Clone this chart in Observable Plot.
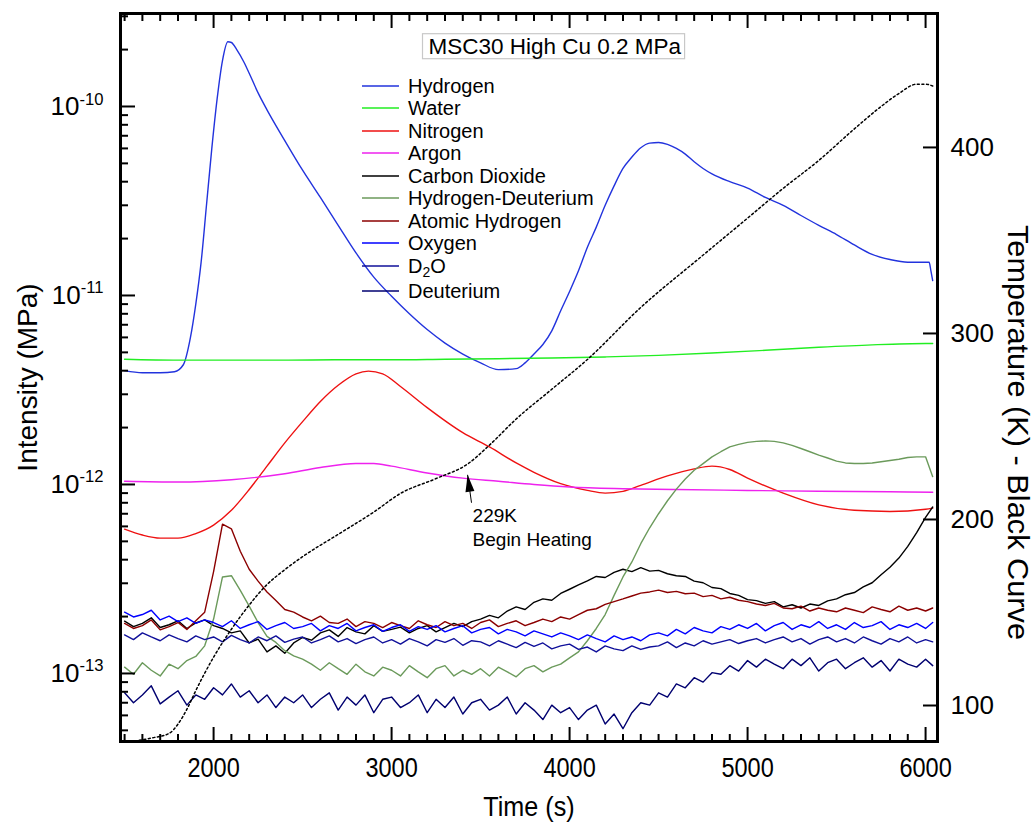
<!DOCTYPE html>
<html><head><meta charset="utf-8">
<script src="https://cdn.jsdelivr.net/npm/d3@7"></script>
<script src="https://cdn.jsdelivr.net/npm/@observablehq/plot@0.6"></script>
<style>
html,body{margin:0;padding:0;background:#fff;}
#chart{width:1034px;height:826px;}
</style></head><body><div id="chart"></div>
<script>
// ---------------- DATA ----------------
const seriesNames  = ["Hydrogen","Water","Nitrogen","Argon","Carbon Dioxide","Hydrogen-Deuterium","Atomic Hydrogen","Oxygen","D2O","Deuterium"];
const seriesColors = ["#2233dd","#22ee22","#ee1111","#ee22ee","#000000","#6b9a5b","#8b0000","#0000ff","#10109a","#000070"];

// smooth series (values in 1e-12 MPa)
const tHydrogen = [1500,1600,1700,1780,1830, 1870,1900,1930,1960,1990, 2020,2050,2080,2100,2130, 2170,2200,2250,2300,2400, 2500,2600,2700,2800,2900, 3000,3100,3200,3300,3400, 3500,3600,3700,3750,3800, 3850,3900,3950,4000,4050, 4100,4150,4200,4250,4300, 4350,4400,4450,4500,4550, 4600,4650,4700,4750,4800, 4900,5000,5100,5200,5300, 5400,5500,5600,5700,5800, 5900,6000,6020,6030,6040];
const hydrogen  = [4.0,3.9,3.9,3.95,4.3, 6,9,15,30,60, 110,175,220,218,200, 172,150,118,96,66, 46,33,23.5,16.8,12.5, 9.9,8.0,6.6,5.6,4.9, 4.4,4.05,4.1,4.4,4.9, 5.5,6.5,8.3,10.5,13.5, 18,23,30,38,47, 54,60.5,64,64.5,63, 60,56,51,47,44, 40,37,33,30,26.5, 23.5,21,18.5,16.5,15.5, 15.0,15.0,15.0,13.5,12];

const tWater = [1500,1800,2100,2400,2700,3000,3300,3600,3900,4200,4500,4800,5100,5400,5700,6000,6040];
const water  = [4.6,4.55,4.55,4.55,4.57,4.57,4.6,4.63,4.67,4.73,4.82,4.96,5.13,5.32,5.48,5.57,5.57];

const tNitrogen = [1500,1600,1700,1800,1900,2000,2100,2200,2300,2400,2500,2600,2700,2800,2870,2950,3050,3200,3400,3550,3700,3800,3950,4100,4200,4300,4400,4550,4700,4800,4900,5000,5200,5400,5600,5800,6000,6040];
const nitrogen  = [0.58,0.54,0.52,0.52,0.55,0.61,0.73,0.94,1.25,1.66,2.15,2.75,3.35,3.85,3.98,3.85,3.30,2.55,1.88,1.58,1.30,1.16,1.01,0.93,0.90,0.92,0.99,1.11,1.21,1.25,1.20,1.08,0.90,0.78,0.73,0.72,0.74,0.75];

const tArgon = [1500,1800,2100,2400,2600,2800,2900,3000,3200,3400,3600,3800,4000,4300,4600,5000,5400,5800,6040];
const argon  = [1.04,1.03,1.06,1.14,1.23,1.29,1.29,1.25,1.15,1.08,1.04,1.00,0.97,0.95,0.94,0.93,0.92,0.915,0.91];

// noisy series (values in 1e-13 MPa) on a common time grid
const tNoisy = [1500,1550,1600,1650,1700,1750,1800,1850,1900,1950,
2000,2050,2100,2150,2200,2250,2300,2350,2400,2450,
2500,2550,2600,2650,2700,2750,2800,2850,2900,2950,
3000,3050,3100,3150,3200,3250,3300,3350,3400,3450,
3500,3550,3600,3650,3700,3750,3800,3850,3900,3950,
4000,4050,4100,4150,4200,4250,4300,4350,4400,4450,
4500,4550,4600,4650,4700,4750,4800,4850,4900,4950,
5000,5050,5100,5150,5200,5250,5300,5350,5400,5450,
5500,5550,5600,5650,5700,5750,5800,5850,5900,5950,
6000,6040];
const carbonDioxide = [1.89,1.77,1.84,1.97,1.75,1.81,1.90,1.73,1.85,1.92,
1.79,1.73,1.64,1.68,1.45,1.52,1.30,1.40,1.28,1.45,
1.55,1.50,1.64,1.70,1.57,1.75,1.66,1.62,1.79,1.67,
1.71,1.76,1.64,1.73,1.79,1.66,1.75,1.84,1.77,1.88,
1.94,2.03,1.97,2.14,2.25,2.18,2.38,2.48,2.44,2.65,
2.79,2.94,3.09,3.26,3.22,3.43,3.56,3.46,3.63,3.48,
3.51,3.37,3.29,3.26,3.08,3.02,2.85,2.81,2.65,2.59,
2.46,2.43,2.35,2.40,2.25,2.31,2.22,2.33,2.29,2.42,
2.48,2.61,2.68,2.87,3.02,3.33,3.65,4.08,4.70,5.56,
6.70,7.60];
const hydrogenDeuterium = [1.08,0.99,1.14,1.04,0.97,1.12,1.06,1.17,1.23,1.40,
1.94,3.24,3.29,2.75,2.27,1.86,1.57,1.46,1.32,1.24,
1.19,1.12,1.04,1.14,1.06,0.99,1.12,1.02,0.97,1.08,
1.04,0.97,1.10,1.02,0.95,1.06,1.10,0.97,1.04,0.99,
1.06,0.97,1.08,1.02,0.96,1.06,1.10,1.02,1.08,1.12,
1.21,1.30,1.49,1.73,2.05,2.59,3.24,3.89,4.86,5.90,
7.0,8.2,9.45,10.7,11.9,12.9,14.0,14.9,15.8,16.3,
16.7,16.9,17.0,16.9,16.6,16.1,15.5,14.9,14.3,13.8,
13.3,13.0,12.9,12.9,13.0,13.2,13.4,13.6,13.9,14.0,
14.0,11.0];
const atomicHydrogen = [1.84,1.73,1.79,1.92,1.70,1.77,1.86,1.71,1.90,2.11,
3.46,6.16,5.83,4.43,3.56,3.08,2.70,2.43,2.18,2.11,
1.99,1.90,2.01,1.86,1.84,1.94,1.77,1.88,1.84,1.75,
1.86,1.79,1.73,1.90,1.81,1.75,1.88,1.79,1.84,1.73,
1.86,1.92,1.77,1.84,1.90,1.79,1.86,1.94,1.88,1.99,
1.94,2.05,2.16,2.20,2.32,2.40,2.48,2.57,2.66,2.70,
2.76,2.68,2.72,2.64,2.66,2.55,2.59,2.48,2.53,2.44,
2.40,2.33,2.29,2.35,2.22,2.20,2.27,2.14,2.22,2.16,
2.12,2.22,2.16,2.10,2.25,2.18,2.12,2.27,2.16,2.22,
2.14,2.22];
const oxygen = [2.11,1.99,2.05,2.16,1.92,2.01,1.88,1.97,1.84,1.92,
1.86,1.77,1.90,1.73,1.81,1.88,1.71,1.79,1.86,1.73,
1.77,1.84,1.68,1.79,1.73,1.84,1.68,1.75,1.81,1.67,
1.75,1.81,1.67,1.77,1.71,1.79,1.66,1.73,1.79,1.64,
1.71,1.75,1.62,1.71,1.66,1.58,1.68,1.62,1.56,1.64,
1.58,1.51,1.60,1.53,1.47,1.58,1.51,1.56,1.49,1.60,
1.64,1.58,1.71,1.62,1.75,1.68,1.64,1.77,1.71,1.81,
1.73,1.84,1.68,1.79,1.86,1.71,1.81,1.75,1.88,1.73,
1.81,1.71,1.86,1.75,1.79,1.88,1.71,1.81,1.75,1.84,
1.73,1.86];
const d2o = [1.60,1.51,1.64,1.56,1.49,1.60,1.53,1.47,1.58,1.51,
1.56,1.47,1.59,1.51,1.45,1.56,1.49,1.58,1.46,1.52,
1.56,1.45,1.51,1.58,1.47,1.53,1.44,1.51,1.56,1.45,
1.51,1.43,1.53,1.47,1.40,1.51,1.46,1.53,1.41,1.49,
1.47,1.40,1.49,1.43,1.37,1.46,1.39,1.45,1.35,1.40,
1.43,1.34,1.38,1.30,1.40,1.35,1.32,1.40,1.34,1.38,
1.40,1.47,1.37,1.45,1.40,1.49,1.43,1.47,1.51,1.44,
1.49,1.53,1.45,1.51,1.56,1.47,1.53,1.43,1.51,1.56,
1.47,1.53,1.45,1.56,1.49,1.43,1.53,1.47,1.56,1.45,
1.51,1.47];
const deuterium = [0.79,0.70,0.77,0.86,0.69,0.75,0.81,0.68,0.77,0.73,
0.84,0.77,0.88,0.75,0.81,0.70,0.77,0.66,0.75,0.70,
0.77,0.66,0.73,0.79,0.64,0.75,0.68,0.77,0.62,0.73,
0.75,0.66,0.70,0.77,0.62,0.73,0.66,0.75,0.61,0.70,
0.73,0.64,0.68,0.75,0.61,0.70,0.64,0.57,0.68,0.62,
0.66,0.57,0.64,0.68,0.54,0.61,0.51,0.62,0.70,0.68,
0.79,0.75,0.88,0.84,0.95,0.90,1.01,0.99,1.10,1.03,
1.17,1.08,1.19,1.12,1.06,1.19,1.10,1.21,1.03,1.14,
1.19,1.06,1.14,1.21,1.08,1.17,1.03,1.19,1.12,1.08,
1.19,1.10];

// temperature (K), black dotted curve on right axis
const tTemp = [1480,1650,1750,1800,1850,1900,2000,2100,2200,2300,2400,2500,2700,2900,3050,3250,3430,3550,3700,3900,4100,4400,4736,5000,5200,5400,5600,5750,5850,5950,6000,6040];
const temperature = [80,82.5,85,90,98,108,126,141,154,165,173,180,192,204,214,222,230,240,254,270,286,314,341,362,378,393,410,422,429,434,434,433];

// axis ticks
const xMajorTicks = [2000,3000,4000,5000,6000];
const yMajorTicks = [1e-13,1e-12,1e-11,1e-10];
const tempTicks = [100,200,300,400];

// annotation
const annotLabel = "229K\nBegin Heating";
const annotTip = {t: 3427, T: 224};
const annotTail = {t: 3449, T: 209};
const annotText = {t: 3455, T: 207.5};
const chartTitle = "MSC30 High Cu 0.2 MPa";

// ---------------- BUILD ----------------
function build(ts, vs, unit, name) {
  if (ts.length !== vs.length) throw new Error("length mismatch " + name + " " + ts.length + " vs " + vs.length);
  return ts.map((t, i) => ({t, v: vs[i] * unit}));
}
const seriesData = [
  build(tHydrogen, hydrogen, 1e-12, "H"),
  build(tWater, water, 1e-12, "W"),
  build(tNitrogen, nitrogen, 1e-12, "N"),
  build(tArgon, argon, 1e-12, "Ar"),
  build(tNoisy, carbonDioxide, 1e-13, "CO2"),
  build(tNoisy, hydrogenDeuterium, 1e-13, "HD"),
  build(tNoisy, atomicHydrogen, 1e-13, "AH"),
  build(tNoisy, oxygen, 1e-13, "O"),
  build(tNoisy, d2o, 1e-13, "D2O"),
  build(tNoisy, deuterium, 1e-13, "D")
];
const smoothSeries = [true, true, true, true, false, false, false, false, false, false];
const tempData = build(tTemp, temperature, 1, "T");

// scale layout
const xDomain = [1477, 6067];
const logTop = -9.508, logBot = -13.360;
const tempTop = 472.0, tempBot = 80.65;
const tToV = T => 10 ** (logBot + (T - tempBot) / (tempTop - tempBot) * (logTop - logBot));

const xMinorTicks = d3.range(1500, 6001, 100).filter(d => !xMajorTicks.includes(d));
const yMinorTicks = [];
for (let e = -14; e <= -10; e++) for (let m = 2; m <= 9; m++) {
  const v = m * 10 ** e;
  if (Math.log10(v) > logBot && Math.log10(v) < logTop) yMinorTicks.push(v);
}

const fReg = "'Liberation Sans', Arimo, Arial, sans-serif";
const arrowHead = {draw(ctx) { ctx.moveTo(0, 0); ctx.lineTo(4.5, 17); ctx.lineTo(-4.5, 17); ctx.closePath(); }};

const plot = Plot.plot({
  width: 1034, height: 826,
  marginLeft: 120, marginRight: 97, marginTop: 13, marginBottom: 85,
  x: {domain: xDomain, label: null},
  y: {type: "log", domain: [10 ** logBot, 10 ** logTop], label: null},
  style: {fontFamily: fReg, color: "black", background: "white", overflow: "visible"},
  marks: [
    ...seriesData.map((d, i) => Plot.line(d, {x: "t", y: "v", stroke: seriesColors[i], strokeWidth: 1.4, clip: true, curve: smoothSeries[i] ? "monotone-x" : "linear"})),
    Plot.line(tempData, {x: "t", y: d => tToV(d.v), stroke: "black", strokeWidth: 1.5, strokeDasharray: "2,2.6", clip: true, curve: "monotone-x"}),
    // annotation
    Plot.link([0], {x1: () => annotTail.t, y1: () => tToV(annotTail.T), x2: () => annotTip.t, y2: () => tToV(annotTip.T), stroke: "black", strokeWidth: 1}),
    Plot.dot([0], {x: () => annotTip.t, y: () => tToV(annotTip.T), symbol: arrowHead, fill: "black", stroke: null, rotate: -8}),
    Plot.text([annotLabel], {x: () => annotText.t, y: () => tToV(annotText.T), text: d => d, textAnchor: "start", lineAnchor: "top", fontSize: 19, lineHeight: 1.25, fill: "black"}),
    // bottom axis
    Plot.axisX({anchor: "bottom", ticks: xMajorTicks, tickSize: 0, tickPadding: 16, tickFormat: d => String(d), fontSize: 28, label: null}),
    Plot.axisX({anchor: "bottom", ticks: xMajorTicks, tickSize: -14, strokeWidth: 2, fill: "none", label: null}),
    Plot.axisX({anchor: "bottom", ticks: xMinorTicks, tickSize: -7, strokeWidth: 2, fill: "none", label: null}),
    Plot.axisX({anchor: "top", ticks: xMajorTicks, tickSize: -14, strokeWidth: 2, fill: "none", label: null}),
    Plot.axisX({anchor: "top", ticks: xMinorTicks, tickSize: -7, strokeWidth: 2, fill: "none", label: null}),
    // left axis
    Plot.axisY({anchor: "left", ticks: yMajorTicks, tickSize: 0, tickPadding: 17, tickFormat: d => "10^" + Math.round(Math.log10(d)), fontSize: 26, label: null}),
    Plot.axisY({anchor: "left", ticks: yMajorTicks, tickSize: -15, strokeWidth: 2, fill: "none", label: null}),
    Plot.axisY({anchor: "left", ticks: yMinorTicks, tickSize: -8, strokeWidth: 2, fill: "none", label: null}),
    // right axis (temperature)
    Plot.axisY({anchor: "right", ticks: tempTicks.map(tToV), tickSize: -15, strokeWidth: 2, fill: "none", label: null}),
    Plot.text(tempTicks, {frameAnchor: "right", y: T => tToV(T), dx: 13, text: T => String(T), textAnchor: "start", lineAnchor: "middle", fontSize: 26}),
    // axis titles
    Plot.text(["Time (s)"], {frameAnchor: "bottom", dy: 66, text: d => d, textAnchor: "middle", lineAnchor: "middle", fontSize: 28}),
    Plot.text(["Intensity (MPa)"], {frameAnchor: "left", dx: -92, rotate: -90, text: d => d, textAnchor: "middle", lineAnchor: "middle", fontSize: 28}),
    Plot.text(["Temperature (K) - Black Curve"], {frameAnchor: "right", dx: 80, dy: 55, rotate: 90, text: d => d, textAnchor: "middle", lineAnchor: "middle", fontSize: 29}),
    // title
    Plot.text([chartTitle], {frameAnchor: "top-left", dx: 308, dy: 33, text: d => d, textAnchor: "start", lineAnchor: "middle", fontSize: 22.5}),
    Plot.frame({stroke: "black", strokeWidth: 3})
  ]
});
document.getElementById("chart").appendChild(plot);
const NS = "http://www.w3.org/2000/svg";

// superscripts on the log axis labels
plot.querySelectorAll("text").forEach(t => {
  if (t.textContent.includes("^") && t.childElementCount === 0) {
    const [b, e] = t.textContent.split("^");
    t.textContent = b;
    const sp = document.createElementNS(NS, "tspan");
    sp.setAttribute("dy", "-0.62em");
    sp.setAttribute("font-size", "0.64em");
    sp.textContent = e.replace("\u2212", "-");
    t.appendChild(sp);
  }
});

// narrow look for x tick labels and the time title
function condense(t, f) {
  const w = t.getComputedTextLength();
  t.setAttribute("textLength", (w * f).toFixed(1));
  t.setAttribute("lengthAdjust", "spacingAndGlyphs");
}
plot.querySelectorAll('g[aria-label="x-axis tick label"] text').forEach(t => condense(t, 0.84));
plot.querySelectorAll("text").forEach(t => {
  if (t.textContent === "Time (s)") condense(t, 0.9);
  if (t.textContent === "Temperature (K) - Black Curve") condense(t, 1.06);
});

// title box
plot.querySelectorAll("text").forEach(t => {
  if (t.textContent === chartTitle) {
    const bb = t.getBBox();
    const r = document.createElementNS(NS, "rect");
    r.setAttribute("x", bb.x - 6); r.setAttribute("y", bb.y);
    r.setAttribute("width", bb.width + 9); r.setAttribute("height", bb.height);
    r.setAttribute("fill", "white"); r.setAttribute("stroke", "#c8c8c8"); r.setAttribute("stroke-width", 1.2);
    if (t.getAttribute("transform")) r.setAttribute("transform", t.getAttribute("transform"));
    t.parentNode.insertBefore(r, t);
  }
});

// legend
const legendRowsY = [86,108,131,153,176,198,221,243,266,291];
const lg = document.createElementNS(NS, "g");
lg.setAttribute("font-family", fReg);
lg.setAttribute("font-size", 20);
lg.setAttribute("text-anchor", "start");
seriesNames.forEach((name, i) => {
  const y = legendRowsY[i];
  const ln = document.createElementNS(NS, "line");
  ln.setAttribute("x1", 362); ln.setAttribute("x2", 399);
  ln.setAttribute("y1", y); ln.setAttribute("y2", y);
  ln.setAttribute("stroke", seriesColors[i]); ln.setAttribute("stroke-width", 1.6);
  lg.appendChild(ln);
  const tx = document.createElementNS(NS, "text");
  tx.setAttribute("x", 408); tx.setAttribute("y", y); tx.setAttribute("dy", "0.35em");
  tx.setAttribute("text-anchor", "start");
  if (name === "D2O") {
    tx.appendChild(document.createTextNode("D"));
    const s = document.createElementNS(NS, "tspan");
    s.setAttribute("dy", "0.3em"); s.setAttribute("font-size", "0.7em"); s.textContent = "2";
    tx.appendChild(s);
    const o = document.createElementNS(NS, "tspan");
    o.setAttribute("dy", "-0.21em"); o.textContent = "O";
    tx.appendChild(o);
  } else tx.textContent = name;
  lg.appendChild(tx);
});
plot.appendChild(lg);
</script></body></html>
